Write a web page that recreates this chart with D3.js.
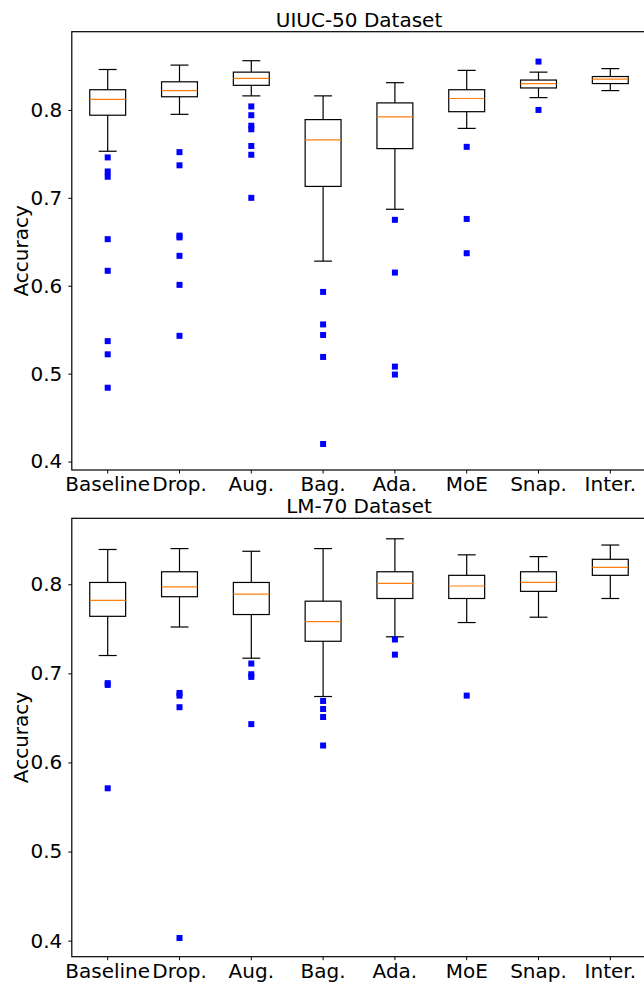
<!DOCTYPE html>
<html>
<head>
<meta charset="utf-8">
<script src="https://cdn.jsdelivr.net/npm/d3@7"></script>
<style>
  body { margin: 0; background: #fff; }
  svg { display: block; font-family: "DejaVu Sans", sans-serif; }
</style>
</head>
<body>
<svg width="644" height="985"></svg>
<script>
const categories = ['Baseline', 'Drop.', 'Aug.', 'Bag.', 'Ada.', 'MoE', 'Snap.', 'Inter.'];
const yTicks = [0.4, 0.5, 0.6, 0.7, 0.8];

// UIUC-50 box stats
const uiucLow    = [0.753, 0.795, 0.816, 0.628, 0.687, 0.779, 0.814, 0.822];
const uiucQ1     = [0.794, 0.815, 0.828, 0.713, 0.756, 0.798, 0.825, 0.830];
const uiucMedian = [0.812, 0.822, 0.836, 0.766, 0.792, 0.813, 0.830, 0.835];
const uiucQ3     = [0.823, 0.832, 0.843, 0.789, 0.808, 0.823, 0.834, 0.838];
const uiucHigh   = [0.846, 0.851, 0.856, 0.816, 0.831, 0.845, 0.843, 0.847];
const uiucOutliers = [
  [0.746, 0.730, 0.724, 0.653, 0.617, 0.537, 0.522, 0.484],
  [0.752, 0.737, 0.657, 0.655, 0.634, 0.601, 0.543],
  [0.804, 0.794, 0.782, 0.778, 0.759, 0.749, 0.700],
  [0.593, 0.556, 0.544, 0.519, 0.420],
  [0.675, 0.615, 0.508, 0.499],
  [0.758, 0.676, 0.637],
  [0.855, 0.800],
  []
];

// LM-70 box stats
const lmLow    = [0.720, 0.752, 0.717, 0.674, 0.741, 0.757, 0.763, 0.784];
const lmQ1     = [0.764, 0.786, 0.766, 0.736, 0.784, 0.784, 0.792, 0.810];
const lmMedian = [0.782, 0.797, 0.789, 0.758, 0.801, 0.798, 0.802, 0.819];
const lmQ3     = [0.802, 0.814, 0.802, 0.781, 0.814, 0.810, 0.814, 0.828];
const lmHigh   = [0.839, 0.840, 0.837, 0.840, 0.851, 0.833, 0.831, 0.844];
const lmOutliers = [
  [0.689, 0.687, 0.571],
  [0.678, 0.675, 0.662, 0.403],
  [0.711, 0.699, 0.696, 0.643],
  [0.669, 0.660, 0.651, 0.619],
  [0.738, 0.721],
  [0.675],
  [],
  []
];

const svg = d3.select('svg');
const margin = {left: 71.8, right: 646.2};
const fontSize = 20;

const panels = [
  {title: 'UIUC-50 Dataset', top: 31.7, bottom: 470, domain: [0.3904, 0.889],
   low: uiucLow, q1: uiucQ1, med: uiucMedian, q3: uiucQ3, high: uiucHigh, out: uiucOutliers},
  {title: 'LM-70 Dataset', top: 518.3, bottom: 956.7, domain: [0.382, 0.874],
   low: lmLow, q1: lmQ1, med: lmMedian, q3: lmQ3, high: lmHigh, out: lmOutliers}
];

const xScale = d3.scaleBand()
  .domain(categories)
  .range([margin.left, margin.right])
  .paddingInner(0).paddingOuter(0);
const bw = xScale.bandwidth();
const cx = c => xScale(c) + bw / 2;
const boxW = bw * 0.5;
const capW = bw * 0.25;

panels.forEach(p => {
  const yScale = d3.scaleLinear().domain(p.domain).range([p.bottom, p.top]);
  const g = svg.append('g');

  //axes
  const yAxis = d3.axisLeft(yScale).tickValues(yTicks).tickFormat(d3.format('.1f'))
    .tickSize(3.5).tickPadding(6);
  g.append('g').attr('transform', `translate(${margin.left},0)`).call(yAxis);

  const xAxis = d3.axisBottom(xScale).tickSize(3.5).tickPadding(3.5);
  g.append('g').attr('transform', `translate(0,${p.bottom})`).call(xAxis);

  g.selectAll('.domain').remove();
  g.selectAll('.tick text').attr('font-size', fontSize).attr('font-family', '"DejaVu Sans", sans-serif').attr('fill', '#000');
  g.selectAll('.tick line').attr('stroke', '#000').attr('stroke-width', 1);

  //spines
  g.append('rect')
    .attr('x', margin.left).attr('y', p.top)
    .attr('width', margin.right - margin.left).attr('height', p.bottom - p.top)
    .attr('fill', 'none').attr('stroke', '#000').attr('stroke-width', 1.2);

  //title
  g.append('text')
    .text(p.title)
    .attr('x', (margin.left + margin.right) / 2)
    .attr('y', p.top - 5)
    .attr('text-anchor', 'middle')
    .attr('font-size', fontSize);

  //y label
  g.append('text')
    .text('Accuracy')
    .attr('transform', `translate(28,${(p.top + p.bottom) / 2}) rotate(-90)`)
    .attr('text-anchor', 'middle')
    .attr('font-size', fontSize);

  //boxes
  const boxes = g.selectAll('.box')
    .data(categories.map((c, i) => ({c, i})))
    .enter().append('g').attr('class', 'box');

  //whiskers
  boxes.append('line')
    .attr('x1', d => cx(d.c)).attr('x2', d => cx(d.c))
    .attr('y1', d => yScale(p.q3[d.i])).attr('y2', d => yScale(p.high[d.i]));
  boxes.append('line')
    .attr('x1', d => cx(d.c)).attr('x2', d => cx(d.c))
    .attr('y1', d => yScale(p.q1[d.i])).attr('y2', d => yScale(p.low[d.i]));
  //caps
  boxes.append('line')
    .attr('x1', d => cx(d.c) - capW / 2).attr('x2', d => cx(d.c) + capW / 2)
    .attr('y1', d => yScale(p.high[d.i])).attr('y2', d => yScale(p.high[d.i]));
  boxes.append('line')
    .attr('x1', d => cx(d.c) - capW / 2).attr('x2', d => cx(d.c) + capW / 2)
    .attr('y1', d => yScale(p.low[d.i])).attr('y2', d => yScale(p.low[d.i]));
  boxes.selectAll('line').attr('stroke', '#000').attr('stroke-width', 1.2);

  boxes.append('rect')
    .attr('x', d => cx(d.c) - boxW / 2)
    .attr('width', boxW)
    .attr('y', d => yScale(p.q3[d.i]))
    .attr('height', d => yScale(p.q1[d.i]) - yScale(p.q3[d.i]))
    .attr('fill', 'none')
    .attr('stroke', '#000')
    .attr('stroke-width', 1.2);

  //median
  boxes.append('line')
    .attr('x1', d => cx(d.c) - boxW / 2).attr('x2', d => cx(d.c) + boxW / 2)
    .attr('y1', d => yScale(p.med[d.i])).attr('y2', d => yScale(p.med[d.i]))
    .attr('stroke', '#ff7f0e').attr('stroke-width', 1.2);

  //outliers
  const pts = [];
  categories.forEach((c, i) => p.out[i].forEach(v => pts.push({c, v})));
  g.selectAll('.flier')
    .data(pts)
    .enter().append('rect')
    .attr('class', 'flier')
    .attr('x', d => cx(d.c) - 3)
    .attr('y', d => yScale(d.v) - 3)
    .attr('width', 6).attr('height', 6)
    .attr('fill', '#0000ff');
});
</script>
</body>
</html>
